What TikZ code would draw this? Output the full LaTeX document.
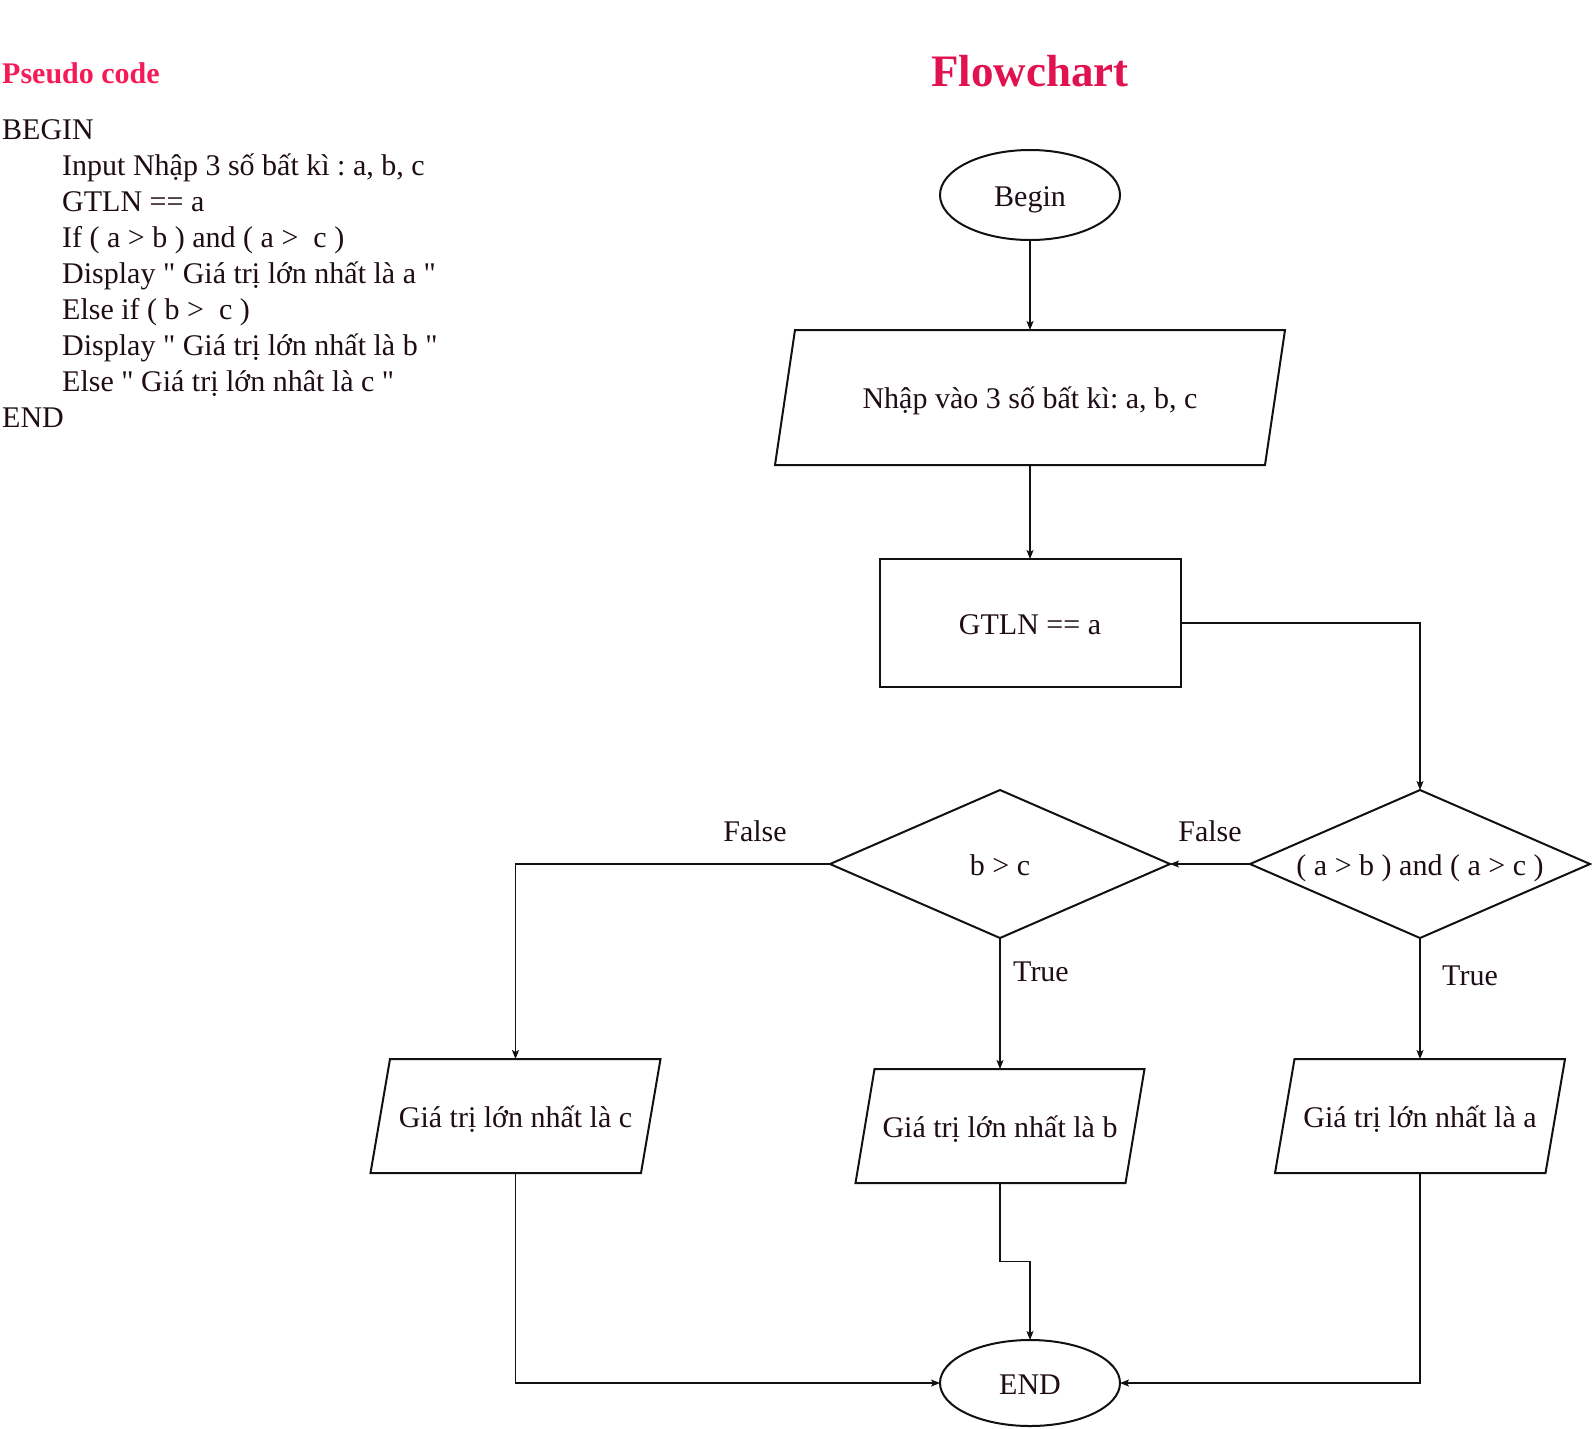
\documentclass[tikz,border=0pt]{standalone}
\usepackage{fontspec}
\setmainfont{Liberation Serif}[Ligatures=TeXOff]
\usetikzlibrary{shapes.geometric,arrows.meta,calc}
\definecolor{txt}{HTML}{1E0C16}
\definecolor{titlered}{HTML}{E0124F}
\definecolor{pinkred}{HTML}{F41B58}
\definecolor{ink}{HTML}{111111}
\frenchspacing
\newcommand{\fsz}{\fontsize{30}{36}\selectfont}
\newcommand{\iooutline}[2]{\draw[shapeline] ([xshift=#2]#1.north west) -- (#1.north east) -- ([xshift=-#2]#1.south east) -- (#1.south west) -- cycle;}
\tikzset{
  basenode/.style={font=\fsz, text=txt, inner sep=0pt, outer sep=0pt, text height=22pt, text depth=0pt},
  shapeline/.style={draw=ink, line width=2pt, line join=miter},
  oval/.style={basenode, ellipse, shapeline, minimum width=180pt, minimum height=#1},
  procbox/.style={basenode, rectangle, shapeline},
  iobox/.style={basenode, rectangle},
  decision/.style={basenode, diamond, shapeline, aspect=2.3, minimum width=340pt, minimum height=148pt},
  conn/.style={draw=ink, line width=1.2pt, -{Stealth[length=9pt,width=7pt,inset=2pt]}},
  lbl/.style={font=\fsz, text=txt, anchor=base, inner sep=0pt},
  code/.style={font=\fsz, text=txt, anchor=base west, inner sep=0pt}
}
\begin{document}
\begin{tikzpicture}[x=1pt,y=-1pt]
\useasboundingbox (0,0) rectangle (1592,1428);

% titles
\node[anchor=base west, inner sep=0pt, text=pinkred, font=\fontsize{30}{36}\selectfont\bfseries] (pstitle) at (2,83) {Pseudo code};
\node[anchor=base, inner sep=0pt, text=titlered, font=\fontsize{45}{54}\selectfont\bfseries] (fctitle) at (1030,86) {Flowchart};

% pseudo code
\node[code] (p1) at (2,139) {BEGIN};
\node[code] (p2) at (62,175) {Input Nhập 3 số bất kì : a, b, c};
\node[code] (p3) at (62,211) {GTLN == a};
\node[code] (p4) at (62,247) {If ( a > b ) and ( a >\ \ c )};
\node[code] (p5) at (62,283) {Display " Giá trị lớn nhất là a "};
\node[code] (p6) at (62,319) {Else if ( b >\ \ c )};
\node[code] (p7) at (62,355) {Display " Giá trị lớn nhất là b "};
\node[code] (p8) at (62,391) {Else " Giá trị lớn nhât là c "};
\node[code] (p9) at (2,427) {END};

% flowchart nodes
\node[oval=90pt] (begin) at (1030,195) {Begin};
\node[iobox, minimum width=510pt, minimum height=135pt] (in) at (1030,397.5) {Nhập vào 3 số bất kì: a, b, c};
\iooutline{in}{20pt}
\node[procbox, minimum width=301pt, minimum height=128pt] (gtln) at (1030,623) {GTLN == a};
\node[decision] (d1) at (1420,864) {( a > b ) and ( a > c )};
\node[decision] (d2) at (1000,864) {b > c};
\node[iobox, minimum width=290pt, minimum height=114pt] (pc) at (515.5,1116) {Giá trị lớn nhất là c};
\iooutline{pc}{19.5pt}
\node[iobox, minimum width=289pt, minimum height=114pt] (pb) at (1000,1126) {Giá trị lớn nhất là b};
\iooutline{pb}{19pt}
\node[iobox, minimum width=290pt, minimum height=114pt] (pa) at (1420,1116) {Giá trị lớn nhất là a};
\iooutline{pa}{19.5pt}
\node[oval=86pt] (end) at (1030,1383) {END};

% connectors
\draw[conn] (begin.south) -- (in.north);
\draw[conn] (in.south) -- (gtln.north);
\draw[conn] (gtln.east) -| (d1.north);
\draw[conn] (d1.west) -- (d2.east);
\draw[conn] (d2.west) -| (pc.north);
\draw[conn] (d2.south) -- (pb.north);
\draw[conn] (d1.south) -- (pa.north);
\draw[conn] (pc.south) |- (end.west);
\draw[conn] (pa.south) |- (end.east);
\draw[conn] (pb.south) |- ($(pb.south)!0.5!(end.north)$) -| (end.north);

% labels
\node[lbl] (f1) at (755,841) {False};
\node[lbl] (f2) at (1210,841) {False};
\node[lbl] (t1) at (1041,981) {True};
\node[lbl] (t2) at (1470,985) {True};
\end{tikzpicture}
\end{document}
